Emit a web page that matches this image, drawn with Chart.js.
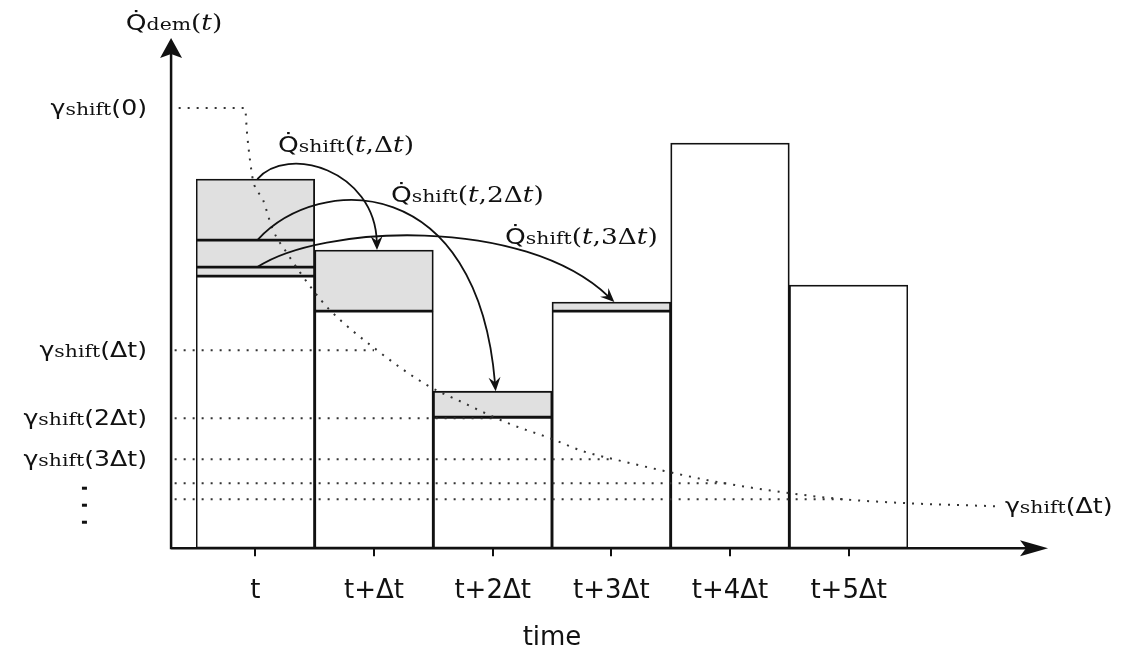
<!DOCTYPE html>
<html>
<head>
<meta charset="utf-8">
<script src="https://cdn.jsdelivr.net/npm/chart.js@4.4.1/dist/chart.umd.min.js"></script>
<style>
  body { margin: 0; background: #fff; }
  canvas { display: block; }
</style>
</head>
<body>
<canvas id="chartCanvas" width="1138" height="650"></canvas>
<script>
// time steps on the horizontal axis
const categories = ['t', 't+Δt', 't+2Δt', 't+3Δt', 't+4Δt', 't+5Δt'];

// demand that stays in its own time step (white part of each bar)
const baseDemand = [272, 237, 131, 237, 405, 263];
// shifted demand packets (grey), bottom to top in the first bar
const shiftTo3 = [9, null, null, 9, null, null];
const shiftTo2 = [27, null, 26, null, null, null];
const shiftTo1 = [61, 61, null, null, null, null];

// gamma_shift levels: gamma(0), gamma(Δt), gamma(2Δt), ...
const gammaLevels = [440, 198, 130, 89, 65, 49];
const gammaArgs = ['0', 'Δt', '2Δt', '3Δt'];

// dotted decay curve of gamma_shift, x in time steps (0 = t)
const gammaCurveX = [-0.66, -0.087, -0.07, -0.045, -0.02, 0.065, 0.149, 0.267, 0.486, 0.629, 1.025, 1.447, 1.742, 2.129, 2.483, 2.761, 3.056, 3.494, 3.857, 4.505, 4.952, 5.5, 6.233];
const gammaCurveY = [440, 440, 415, 388, 368, 348, 318, 295, 258, 238, 198, 163, 146, 125, 110, 97, 88, 76, 67, 55, 49, 45, 42];

const SANS = '"DejaVu Sans"';
const SERIF = '"DejaVu Serif"';
const INK = '#111';
const GREY = '#e0e0e0';
const STRETCH = 1.2;

Chart.defaults.font.family = SANS;

// build the dotted line datasets
// the curve is fed right to left so that the part beyond the last bar is not cut off
const curvePoints = gammaCurveX.map((x, i) => ({ x: x, y: gammaCurveY[i] })).reverse();
const dotted = {
    type: 'line',
    xAxisID: 'x2',
    yAxisID: 'y2',
    borderColor: '#333',
    borderWidth: 2,
    borderDash: [2, 7],
    pointRadius: 0,
    fill: false,
    clip: false,
    order: 0
};
const lineSets = [Object.assign({}, dotted, { data: curvePoints, cubicInterpolationMode: 'monotone' })];
for (let k = 1; k < gammaLevels.length; k++) {
    lineSets.push(Object.assign({}, dotted, {
        data: [{ x: -0.68, y: gammaLevels[k] }, { x: k, y: gammaLevels[k] }]
    }));
}

function barSet(values, color) {
    return {
        data: values,
        backgroundColor: color,
        borderColor: INK,
        borderWidth: 1.8,
        borderSkipped: false,
        barPercentage: 1,
        categoryPercentage: 1,
        grouped: false,
        order: 1
    };
}

// arrows: which shifted layer (dataset index) goes to which time step, with bend of the curve
const shiftArrows = [
    { layer: 3, target: 1, c1: [30, -35], c2: [-2, -80] },
    { layer: 2, target: 2, c1: [63, -68], c2: [-18, -218] },
    { layer: 1, target: 3, c1: [63, -42], c2: [-91, -87] }
];

// text pieces: [text, font]
function gammaText(arg) {
    return [['γ', `21px ${SANS}`], ['shift', `17px ${SERIF}`], ['(' + arg + ')', `21px ${SANS}`]];
}
function qText(sub, args) {
    const parts = [['Q\u0307', `22px ${SANS}`], [sub, `17px ${SERIF}`], ['(', `22px ${SERIF}`]];
    args.forEach(a => parts.push([a[0], a[1] ? `italic 22px ${SERIF}` : `22px ${SERIF}`]));
    parts.push([')', `22px ${SERIF}`]);
    return parts;
}
const annotations = [
    { x: -0.685, y: 518, align: 'center', parts: qText('dem', [['t', 1]]) },
    { x: 0.191, y: 396, align: 'left', parts: qText('shift', [['t', 1], [',Δ', 0], ['t', 1]]) },
    { x: 1.143, y: 346, align: 'left', parts: qText('shift', [['t', 1], [',2Δ', 0], ['t', 1]]) },
    { x: 2.104, y: 304, align: 'left', parts: qText('shift', [['t', 1], [',3Δ', 0], ['t', 1]]) },
    { x: 6.317, y: 35, align: 'left', parts: gammaText('Δt') }
];

function drawRich(ctx, parts, x, y, align) {
    let total = 0;
    parts.forEach(p => { ctx.font = p[1]; total += ctx.measureText(p[0]).width; });
    ctx.save();
    ctx.translate(x, y);
    ctx.scale(STRETCH, 1);
    let cx = align === 'right' ? -total : (align === 'center' ? -total / 2 : 0);
    ctx.fillStyle = INK;
    ctx.textBaseline = 'alphabetic';
    ctx.textAlign = 'left';
    parts.forEach(p => {
        ctx.font = p[1];
        ctx.fillText(p[0], cx, 0);
        cx += ctx.measureText(p[0]).width;
    });
    ctx.restore();
}

const diagramPlugin = {
    id: 'diagram',
    afterDatasetsDraw(chart) {
        const ctx = chart.ctx;
        const xs = chart.scales.x2;
        const ys = chart.scales.y2;
        const y0 = ys.getPixelForValue(0);
        const xStart = xs.getPixelForValue(-0.71);
        const xEnd = xs.getPixelForValue(6.68);
        const yTop = ys.getPixelForValue(ys.max);

        ctx.save();
        // axes with arrow heads
        ctx.strokeStyle = INK;
        ctx.fillStyle = INK;
        ctx.lineWidth = 2.5;
        ctx.beginPath();
        ctx.moveTo(xStart, y0 + 1);
        ctx.lineTo(xStart, yTop + 16);
        ctx.moveTo(xStart, y0);
        ctx.lineTo(xEnd - 22, y0);
        ctx.stroke();
        ctx.beginPath();
        ctx.moveTo(xStart, yTop);
        ctx.lineTo(xStart - 11, yTop + 20);
        ctx.lineTo(xStart, yTop + 16);
        ctx.lineTo(xStart + 11, yTop + 20);
        ctx.closePath();
        ctx.fill();
        ctx.beginPath();
        ctx.moveTo(xEnd, y0);
        ctx.lineTo(xEnd - 28, y0 - 8);
        ctx.lineTo(xEnd - 22, y0);
        ctx.lineTo(xEnd - 28, y0 + 8);
        ctx.closePath();
        ctx.fill();

        // shift arrows from the first bar to later bars
        ctx.lineWidth = 1.8;
        shiftArrows.forEach(a => {
            const from = chart.getDatasetMeta(a.layer).data[0];
            const to = chart.getDatasetMeta(a.layer).data[a.target];
            const S = { x: from.x + 2, y: from.y };
            const E = { x: to.x + 3, y: to.y };
            const c1 = { x: S.x + a.c1[0], y: S.y + a.c1[1] };
            const c2 = { x: E.x + a.c2[0], y: E.y + a.c2[1] };
            const ang = Math.atan2(E.y - c2.y, E.x - c2.x);
            const back = 12;
            ctx.beginPath();
            ctx.moveTo(S.x, S.y);
            ctx.bezierCurveTo(c1.x, c1.y, c2.x, c2.y, E.x - Math.cos(ang) * 8, E.y - Math.sin(ang) * 8);
            ctx.stroke();
            ctx.save();
            ctx.translate(E.x, E.y);
            ctx.rotate(ang);
            ctx.beginPath();
            ctx.moveTo(0, 0);
            ctx.lineTo(-back - 2, -6);
            ctx.lineTo(-back + 3, 0);
            ctx.lineTo(-back - 2, 6);
            ctx.closePath();
            ctx.fill();
            ctx.restore();
        });

        // gamma labels on the left
        const labelX = xs.getPixelForValue(-0.913);
        gammaArgs.forEach((arg, k) => {
            drawRich(ctx, gammaText(arg), labelX, ys.getPixelForValue(gammaLevels[k]) + 7, 'right');
        });
        // vertical ellipsis below the labels
        const dotX = xs.getPixelForValue(-1.44);
        [60, 43, 26].forEach(v => {
            ctx.fillRect(dotX - 2.5, ys.getPixelForValue(v) - 1.5, 5, 3);
        });

        annotations.forEach(a => {
            drawRich(ctx, a.parts, xs.getPixelForValue(a.x), ys.getPixelForValue(a.y), a.align);
        });
        ctx.restore();
    }
};

const ctx = document.getElementById('chartCanvas');
window.myChart = new Chart(ctx, {
    type: 'bar',
    data: {
        labels: categories,
        datasets: [
            barSet(baseDemand, '#ffffff'),
            barSet(shiftTo3, GREY),
            barSet(shiftTo2, GREY),
            barSet(shiftTo1, GREY),
            ...lineSets
        ]
    },
    options: {
        responsive: false,
        animation: false,
        layout: { padding: { left: 196, right: 230, top: 38, bottom: 0 } },
        plugins: {
            legend: { display: false },
            tooltip: { enabled: false }
        },
        scales: {
            x: {
                stacked: true,
                offset: true,
                border: { display: false },
                grid: { offset: false, drawOnChartArea: false, tickLength: 8, color: INK, lineWidth: 2 },
                ticks: { color: INK, padding: 24, font: { family: SANS, size: 26, lineHeight: 0.86 } },
                title: { display: true, text: 'time', color: INK, font: { family: SANS, size: 26, lineHeight: 0.9 }, padding: { top: 0, bottom: 0 } }
            },
            y: { stacked: true, min: 0, max: 510, display: false },
            x2: { type: 'linear', position: 'bottom', offset: false, grid: { offset: false }, min: -0.5, max: 5.5, display: false },
            y2: { type: 'linear', position: 'left', min: 0, max: 510, display: false }
        }
    },
    plugins: [diagramPlugin]
});
</script>
</body>
</html>
